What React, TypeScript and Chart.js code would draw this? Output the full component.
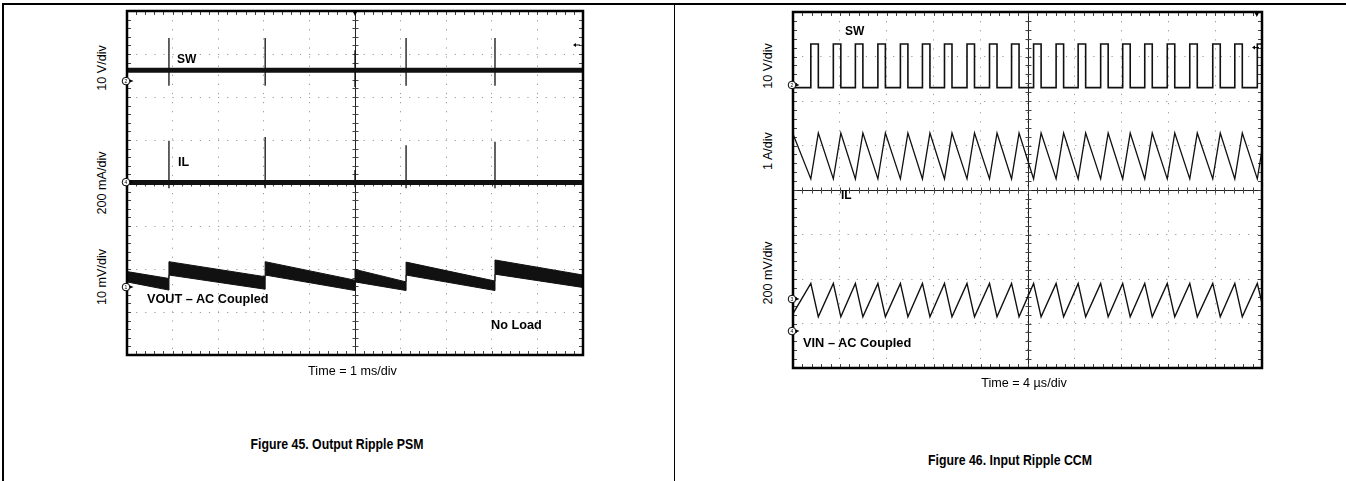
import React, { useEffect, useRef } from "react";
import { Chart, registerables } from "chart.js";

Chart.register(...registerables);

const FONT = '"Liberation Sans", Arial, Helvetica, sans-serif';
const INK = "#111111";

// ---------- Figure 45: Output Ripple PSM (scope divisions: x 0..10, y -4..4) ----------
const psmSpikeTimes = [0.92, 3.03, 5.0, 6.12, 8.07];
const psmSwLevel = 2.62;
const psmSwSpikeTop = [3.37, 3.37, 3.09, 3.37, 3.37];
const psmSwSpikeBottom = [2.26, 2.26, 2.23, 2.26, 2.26];
const psmIlLevel = 0.01;
const psmIlSpikeTop = [0.98, 1.07, 0.3, 0.88, 0.96];
const psmIlSpikeBottom = [-0.12, -0.12, -0.1, -0.12, -0.12];
const psmVoutTimes = [0, 0.92, 0.92, 3.03, 3.03, 5.0, 5.0, 6.12, 6.12, 8.07, 8.07, 10];
const psmVoutTop = [-2.06, -2.22, -1.83, -2.18, -1.83, -2.26, -2.01, -2.3, -1.84, -2.28, -1.79, -2.14];
const psmVoutBottom = [-2.3, -2.49, -2.14, -2.47, -2.14, -2.5, -2.3, -2.5, -2.14, -2.5, -2.12, -2.43];
const psmMarkerLabels = ["2", "4", "1"];
const psmMarkerLevels = [2.37, 0.02, -2.42];

// ---------- Figure 46: Input Ripple CCM ----------
const ccmSwRise = [0.38, 0.86, 1.33, 1.81, 2.29, 2.76, 3.23, 3.71, 4.19, 4.66, 5.13, 5.61, 6.08, 6.56, 7.03, 7.5, 7.98, 8.46, 8.95, 9.42, 9.9];
const ccmSwFall = [0.54, 1.02, 1.49, 1.97, 2.45, 2.92, 3.39, 3.87, 4.35, 4.82, 5.29, 5.77, 6.24, 6.72, 7.19, 7.66, 8.14, 8.62, 9.11, 9.58, 10.0];
const ccmSwLevels = [2.3, 3.28]; // low, high
const ccmIlLevels = [0.25, 1.28]; // valley, peak
const ccmIlEnds = [1.26, 0.9]; // at left edge, at right edge
const ccmVinLevels = [-2.85, -2.1]; // valley, peak
const ccmVinEnds = [-2.78, -2.55];
const ccmMarkerLabels = ["2", "3", "4"];
const ccmMarkerLevels = [2.36, -2.45, -3.17];

type P = { x: number; y: number | null };

function spikes(times: number[], tops: number[], bottoms: number[]): P[] {
  const pts: P[] = [];
  times.forEach((t, i) => {
    pts.push({ x: t, y: bottoms[i] }, { x: t, y: tops[i] }, { x: t, y: null });
  });
  return pts;
}

function flat(level: number): P[] {
  return [
    { x: 0, y: level },
    { x: 10, y: level },
  ];
}

function series(xs: number[], ys: number[]): P[] {
  return xs.map((x, i) => ({ x, y: ys[i] }));
}

function squareWave(rise: number[], fall: number[], levels: number[]): P[] {
  const [lo, hi] = levels;
  const pts: P[] = [{ x: 0, y: lo }];
  rise.forEach((r, i) => {
    pts.push({ x: r, y: lo }, { x: r, y: hi }, { x: fall[i], y: hi });
    if (fall[i] < 10) pts.push({ x: fall[i], y: lo });
  });
  return pts;
}

function triangle(rise: number[], fall: number[], atRise: number, atFall: number, ends: number[]): P[] {
  const pts: P[] = [{ x: 0, y: ends[0] }];
  rise.forEach((r, i) => {
    pts.push({ x: r, y: atRise });
    pts.push({ x: fall[i], y: fall[i] >= 10 ? ends[1] : atFall });
  });
  return pts;
}

function lineDs(data: P[], width: number, extra: any = {}) {
  return {
    data,
    borderColor: INK,
    backgroundColor: INK,
    borderWidth: width,
    pointRadius: 0,
    tension: 0,
    fill: false,
    spanGaps: false,
    borderCapStyle: "butt",
    ...extra,
  };
}

const scopePlugin = {
  id: "scope",
  beforeDatasetsDraw(chart: any) {
    const { ctx, chartArea: a, scales } = chart;
    const x = scales.x;
    const y = scales.y;
    const cx = Math.round(x.getPixelForValue(5)) + 0.5;
    const cy = Math.round(y.getPixelForValue(0)) + 0.5;
    ctx.save();
    ctx.strokeStyle = "#222";
    ctx.lineWidth = 1;
    ctx.beginPath();
    ctx.moveTo(cx, a.top);
    ctx.lineTo(cx, a.bottom);
    ctx.moveTo(a.left, cy);
    ctx.lineTo(a.right, cy);
    ctx.stroke();
    ctx.strokeStyle = "#444";
    ctx.beginPath();
    for (let k = 1; k < 50; k++) {
      const px = Math.round(x.getPixelForValue(k * 0.2)) + 0.5;
      ctx.moveTo(px, a.top);
      ctx.lineTo(px, a.top + 4);
      ctx.moveTo(px, a.bottom);
      ctx.lineTo(px, a.bottom - 4);
      ctx.moveTo(px, cy - 3);
      ctx.lineTo(px, cy + 3);
    }
    for (let k = -19; k < 20; k++) {
      const py = Math.round(y.getPixelForValue(k * 0.2)) + 0.5;
      ctx.moveTo(a.left, py);
      ctx.lineTo(a.left + 4, py);
      ctx.moveTo(a.right, py);
      ctx.lineTo(a.right - 4, py);
      ctx.moveTo(cx - 3, py);
      ctx.lineTo(cx + 3, py);
    }
    ctx.stroke();
    ctx.restore();
  },
  afterDatasetsDraw(chart: any, _args: any, opts: any) {
    const { ctx, chartArea: a, scales } = chart;
    const x = scales.x;
    const y = scales.y;
    ctx.save();
    ctx.strokeStyle = "#000";
    ctx.lineWidth = 2.5;
    ctx.strokeRect(a.left, a.top, a.right - a.left, a.bottom - a.top);
    const tx = x.getPixelForValue(opts.trigger);
    ctx.fillStyle = "#000";
    ctx.beginPath();
    ctx.moveTo(tx - 2.5, a.top);
    ctx.lineTo(tx + 2.5, a.top);
    ctx.lineTo(tx, a.top + 5);
    ctx.closePath();
    ctx.fill();
    const ay = y.getPixelForValue(opts.arrow);
    ctx.lineWidth = 1;
    ctx.beginPath();
    ctx.moveTo(a.right - 3, ay);
    ctx.lineTo(a.right - 8, ay);
    ctx.stroke();
    ctx.beginPath();
    ctx.moveTo(a.right - 10, ay);
    ctx.lineTo(a.right - 7, ay - 2);
    ctx.lineTo(a.right - 7, ay + 2);
    ctx.closePath();
    ctx.fill();
    opts.labels.forEach((lab: string, i: number) => {
      const py = y.getPixelForValue(opts.levels[i]);
      const px = a.left - 1;
      ctx.fillStyle = "#fff";
      ctx.strokeStyle = "#000";
      ctx.lineWidth = 1;
      ctx.beginPath();
      ctx.arc(px, py, 3.8, 0, Math.PI * 2);
      ctx.fill();
      ctx.stroke();
      ctx.fillStyle = "#000";
      ctx.font = "5px " + FONT;
      ctx.textAlign = "center";
      ctx.textBaseline = "middle";
      ctx.fillText(lab, px, py + 0.5);
      ctx.beginPath();
      ctx.moveTo(px + 4, py - 1.5);
      ctx.lineTo(px + 7.5, py);
      ctx.lineTo(px + 4, py + 1.5);
      ctx.closePath();
      ctx.fill();
    });
    ctx.restore();
  },
};

const PAD = 10;

function scopeConfig(datasets: any[], deco: any): any {
  const axis = (min: number, max: number) => ({
    type: "linear",
    min,
    max,
    ticks: { display: false, stepSize: 1 },
    grid: { color: "#9a9a9a", lineWidth: 1, drawTicks: false },
    border: { display: false, dash: [1.2, 7.9] },
    title: { display: false },
  });
  return {
    type: "line",
    data: { datasets },
    options: {
      animation: false,
      responsive: false,
      maintainAspectRatio: false,
      events: [],
      layout: { padding: PAD },
      plugins: { legend: { display: false }, tooltip: { enabled: false }, scope: deco },
      scales: { x: axis(0, 10), y: axis(-4, 4) },
    },
    plugins: [scopePlugin],
  };
}

function ScopeChart(props: { left: number; top: number; width: number; height: number; datasets: any[]; deco: any }) {
  const ref = useRef<HTMLCanvasElement>(null);
  const { left, top, width, height, datasets, deco } = props;
  useEffect(() => {
    const chart = new Chart(ref.current as HTMLCanvasElement, scopeConfig(datasets, deco));
    return () => chart.destroy();
  }, []);
  const W = width + 2 * PAD;
  const H = height + 2 * PAD;
  return (
    <canvas
      ref={ref}
      width={W}
      height={H}
      style={{ position: "absolute", left: left - PAD, top: top - PAD, width: W, height: H }}
    />
  );
}

function Txt(props: { x: number; base: number; size: number; bold?: boolean; center?: boolean; sx?: number; children: any }) {
  const { x, base, size, bold, center, sx, children } = props;
  const tf = [center ? "translateX(-50%)" : "", sx ? `scaleX(${sx})` : ""].join(" ").trim();
  return (
    <div
      style={{
        position: "absolute",
        left: x,
        top: base - 0.8465 * size,
        fontSize: size,
        lineHeight: size + "px",
        fontFamily: FONT,
        fontWeight: bold ? "bold" : "normal",
        color: "#000",
        whiteSpace: "nowrap",
        transform: tf || undefined,
      }}
    >
      {children}
    </div>
  );
}

function VTxt(props: { cx: number; cy: number; size: number; children: any }) {
  const { cx, cy, size, children } = props;
  return (
    <div
      style={{
        position: "absolute",
        left: cx,
        top: cy,
        fontSize: size,
        lineHeight: size + "px",
        fontFamily: FONT,
        color: "#000",
        whiteSpace: "nowrap",
        transform: "translate(-50%, -50%) rotate(-90deg)",
      }}
    >
      {children}
    </div>
  );
}

export default function App() {
  const psmDatasets = [
    lineDs(flat(psmSwLevel), 5),
    lineDs(spikes(psmSpikeTimes, psmSwSpikeTop, psmSwSpikeBottom), 1.3),
    lineDs(flat(psmIlLevel), 5),
    lineDs(spikes(psmSpikeTimes, psmIlSpikeTop, psmIlSpikeBottom), 1.3),
    lineDs(series(psmVoutTimes, psmVoutTop), 1),
    lineDs(series(psmVoutTimes, psmVoutBottom), 1, { fill: "-1" }),
  ];
  const ccmDatasets = [
    lineDs(squareWave(ccmSwRise, ccmSwFall, ccmSwLevels), 1.6),
    lineDs(triangle(ccmSwRise, ccmSwFall, ccmIlLevels[0], ccmIlLevels[1], ccmIlEnds), 1.3),
    lineDs(triangle(ccmSwRise, ccmSwFall, ccmVinLevels[1], ccmVinLevels[0], ccmVinEnds), 1.4),
  ];
  const line = (s: any) => <div style={{ position: "absolute", background: "#000", ...s }} />;
  return (
    <div style={{ position: "absolute", left: 0, top: 0, width: 1346, height: 481, background: "#fff", overflow: "hidden" }}>
      {line({ left: 2, top: 3, width: 1344, height: 1.5 })}
      {line({ left: 2, top: 3, width: 1.5, height: 478 })}
      {line({ left: 673.5, top: 3, width: 1.5, height: 478 })}

      <ScopeChart
        left={127}
        top={11}
        width={456}
        height={344}
        datasets={psmDatasets}
        deco={{ trigger: 5, arrow: 3.21, labels: psmMarkerLabels, levels: psmMarkerLevels }}
      />
      <ScopeChart
        left={793}
        top={12}
        width={469}
        height={356}
        datasets={ccmDatasets}
        deco={{ trigger: 9.89, arrow: 3.2, labels: ccmMarkerLabels, levels: ccmMarkerLevels }}
      />

      <VTxt cx={102} cy={68} size={12.6}>10 V/div</VTxt>
      <VTxt cx={102} cy={183} size={12.6}>200 mA/div</VTxt>
      <VTxt cx={102} cy={277} size={12.6}>10 mV/div</VTxt>
      <Txt x={177} base={63} size={12} bold>SW</Txt>
      <Txt x={178} base={167} size={12.5} bold>IL</Txt>
      <Txt x={147} base={304} size={12.7} bold>VOUT – AC Coupled</Txt>
      <Txt x={491} base={330} size={12.7} bold>No Load</Txt>
      <Txt x={352.5} base={376} size={12.6} center>Time = 1 ms/div</Txt>
      <Txt x={337} base={449} size={15} bold center sx={0.82}>Figure 45. Output Ripple PSM</Txt>

      <VTxt cx={768} cy={66} size={12.6}>10 V/div</VTxt>
      <VTxt cx={768} cy={151} size={12.6}>1 A/div</VTxt>
      <VTxt cx={768} cy={273} size={12.6}>200 mV/div</VTxt>
      <Txt x={845} base={35} size={12} bold>SW</Txt>
      <Txt x={841} base={199.5} size={12} bold>IL</Txt>
      <Txt x={803} base={348.3} size={12.8} bold>VIN – AC Coupled</Txt>
      <Txt x={1024} base={387.7} size={12.6} center>Time = 4 µs/div</Txt>
      <Txt x={1010} base={465} size={15} bold center sx={0.82}>Figure 46. Input Ripple CCM</Txt>
    </div>
  );
}
